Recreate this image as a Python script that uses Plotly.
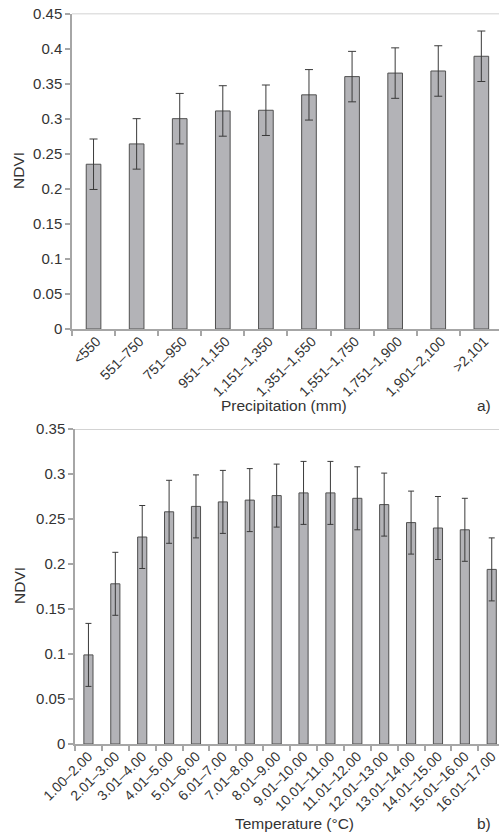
import plotly.graph_objects as go

# ---- data ----
precip_cats = ["<550", "551–750", "751–950", "951–1,150", "1,151–1,350", "1,351–1,550",
               "1,551–1,750", "1,751–1,900", "1,901–2,100", ">2,101"]
precip_ndvi = [0.235, 0.264, 0.300, 0.311, 0.312, 0.334, 0.360, 0.365, 0.368, 0.389]
precip_err = [0.036, 0.036, 0.036, 0.036, 0.036, 0.036, 0.036, 0.036, 0.036, 0.036]

temp_cats = ["1.00–2.00", "2.01–3.00", "3.01–4.00", "4.01–5.00", "5.01–6.00", "6.01–7.00",
             "7.01–8.00", "8.01–9.00", "9.01–10.00", "10.01–11.00", "11.01–12.00",
             "12.01–13.00", "13.01–14.00", "14.01–15.00", "15.01–16.00", "16.01–17.00"]
temp_ndvi = [0.099, 0.178, 0.230, 0.258, 0.264, 0.269, 0.271, 0.276, 0.279, 0.279,
             0.273, 0.266, 0.246, 0.240, 0.238, 0.194]
temp_err = [0.035, 0.035, 0.035, 0.035, 0.035, 0.035, 0.035, 0.035, 0.035, 0.035,
            0.035, 0.035, 0.035, 0.035, 0.035, 0.035]

y1_ticks = [0, 0.05, 0.1, 0.15, 0.2, 0.25, 0.3, 0.35, 0.4, 0.45]
y1_labels = ["0", "0.05", "0.1", "0.15", "0.2", "0.25", "0.3", "0.35", "0.4", "0.45"]
y2_ticks = [0, 0.05, 0.1, 0.15, 0.2, 0.25, 0.3, 0.35]
y2_labels = ["0", "0.05", "0.1", "0.15", "0.2", "0.25", "0.3", "0.35"]

# ---- style ----
FONT = "Liberation Sans, Arial, sans-serif"
TXT = "#333333"
AXC = "#a6a6a6"
BAR = "#b3b3b7"
BARLINE = "#505050"
ERRC = "#3a3a3a"
W, H = 499, 834

fig = go.Figure()
fig.add_trace(go.Bar(x=precip_cats, y=precip_ndvi, width=0.34,
                     marker=dict(color=BAR, line=dict(color=BARLINE, width=1)),
                     error_y=dict(type="data", array=precip_err, color=ERRC, thickness=1, width=4),
                     xaxis="x", yaxis="y"))
fig.add_trace(go.Bar(x=temp_cats, y=temp_ndvi, width=0.34,
                     marker=dict(color=BAR, line=dict(color=BARLINE, width=1)),
                     error_y=dict(type="data", array=temp_err, color=ERRC, thickness=1, width=3),
                     xaxis="x2", yaxis="y2"))

xtickfont = dict(family=FONT, size=14, color=TXT)
ytickfont = dict(family=FONT, size=15, color=TXT)

xcommon = dict(type="category", showline=True, linecolor=AXC, linewidth=1.5,
               ticks="outside", tickcolor=AXC, ticklen=5, tickwidth=1.5,
               tickson="boundaries", tickangle=-45, tickfont=xtickfont,
               ticklabelstandoff=-3,
               showgrid=False, zeroline=False, automargin=False)
ycommon = dict(showline=True, linecolor=AXC, linewidth=1.5, ticks="outside",
               tickcolor=AXC, ticklen=5, tickwidth=1.5, tickfont=ytickfont,
               showgrid=False, zeroline=False, automargin=False)

fig.update_layout(
    width=W, height=H, margin=dict(l=0, r=0, t=0, b=0),
    plot_bgcolor="white", paper_bgcolor="white", showlegend=False,
    xaxis=dict(**xcommon, domain=[72 / W, 1], anchor="y", range=[-0.5, 9.41],
               ticklabelshift=3),
    yaxis=dict(**ycommon, domain=[(H - 329) / H, (H - 13.5) / H], anchor="x",
               range=[0, 0.45], tickvals=y1_ticks, ticktext=y1_labels),
    xaxis2=dict(**xcommon, domain=[75 / W, 1], anchor="y2", range=[-0.5, 15.27],
                ticklabelshift=0),
    yaxis2=dict(**ycommon, domain=[(H - 744) / H, (H - 429) / H], anchor="x2",
                range=[0, 0.35], tickvals=y2_ticks, ticktext=y2_labels),
)

# top border lines
fig.add_shape(type="line", xref="x domain", yref="y", x0=0, x1=1, y0=0.45, y1=0.45,
              line=dict(color="#c4c4c4", width=1.5))
fig.add_shape(type="line", xref="x2 domain", yref="y2", x0=0, x1=1, y0=0.35, y1=0.35,
              line=dict(color="#c4c4c4", width=1.5))

afont = dict(family=FONT, size=15.5, color=TXT)
ann = [
    dict(text="NDVI", x=19 / W, y=(H - 171) / H, textangle=-90),
    dict(text="NDVI", x=19 / W, y=(H - 586) / H, textangle=-90),
    dict(text="Precipitation (mm)", x=284 / W, y=(H - 405) / H),
    dict(text="a)", x=484 / W, y=(H - 405) / H),
    dict(text="Temperature (°C)", x=294 / W, y=(H - 823) / H),
    dict(text="b)", x=484 / W, y=(H - 823) / H),
]
for a in ann:
    fig.add_annotation(xref="paper", yref="paper", showarrow=False, font=afont,
                       xanchor="center", yanchor="middle", **a)

fig.write_html("out.html")
